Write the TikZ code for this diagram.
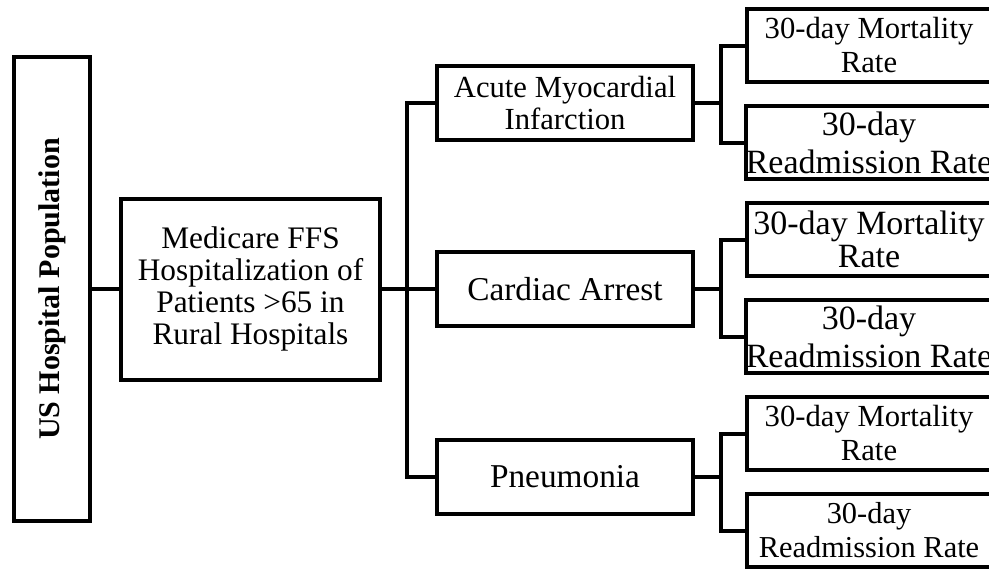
\documentclass[tikz,border=0pt]{standalone}
\usepackage{fontspec}
\usepackage{graphicx}
\setmainfont{Liberation Serif}
\usetikzlibrary{positioning}

\begin{document}
\begin{tikzpicture}[x=0.75pt,y=-0.75pt]
  \tikzstyle{box} = [rectangle,draw=black,line width=3pt,inner sep=0pt,outer sep=0pt,align=center]
  \tikzstyle{cond} = [box,minimum width=192pt,minimum height=55.5pt,font=\fontsize{25}{28}\selectfont]
  \tikzstyle{rate} = [box,minimum width=183pt,minimum height=54.75pt]
  \tikzstyle{link} = [draw=black,line width=3pt]

  \useasboundingbox (0,0) rectangle (989,571);

  \node [box,minimum width=57pt,minimum height=348pt,font=\fontsize{22.5}{24}\selectfont\bfseries] (us) at (52,289) {\rotatebox{90}{US Hospital Population}};
  \node [box,minimum width=194.25pt,minimum height=135.75pt,right=23.25pt of us,font=\fontsize{23.5}{23.8}\selectfont] (medicare) {Medicare FFS\\Hospitalization of\\Patients >65 in\\Rural Hospitals};

  \node [cond,right=42.75pt of medicare] (cardiac) {Cardiac Arrest};
  \node [cond,above=84pt of cardiac,font=\fontsize{23}{24}\selectfont] (ami) {Acute Myocardial\\Infarction};
  \node [cond,below=85.5pt of cardiac] (pneu) {Pneumonia};

  \node [rate,right=40.5pt of ami,yshift=43.125pt,font=\fontsize{23}{25.5}\selectfont] (mort1) {30-day Mortality\\Rate};
  \node [rate,below=18pt of mort1,font=\fontsize{25.5}{28.5}\selectfont] (read1) {30-day\\Readmission Rate};
  \node [rate,below=18pt of read1,font=\fontsize{25.5}{25}\selectfont] (mort2) {30-day Mortality\\Rate};
  \node [rate,below=18pt of mort2,font=\fontsize{25.5}{28.5}\selectfont] (read2) {30-day\\Readmission Rate};
  \node [rate,below=18pt of read2,font=\fontsize{23}{25.5}\selectfont] (mort3) {30-day Mortality\\Rate};
  \node [rate,below=18pt of mort3,font=\fontsize{22.8}{25.5}\selectfont] (read3) {30-day\\Readmission Rate};

  \draw [link] (us.east) -- (medicare.west);
  \draw [link] (medicare.east) -- ++(27,0) coordinate (split);
  \draw [link] (ami.west) -| (split) |- (pneu.west);
  \draw [link] (split) -- (cardiac.west);

  \draw [link] (ami.east) -- ++(28,0) coordinate (amisplit);
  \draw [link] (mort1.west) -| (amisplit) |- (read1.west);
  \draw [link] (cardiac.east) -- ++(28,0) coordinate (cardsplit);
  \draw [link] (mort2.west) -| (cardsplit) |- (read2.west);
  \draw [link] (pneu.east) -- ++(28,0) coordinate (pneusplit);
  \draw [link] (mort3.west) -| (pneusplit) |- (read3.west);
  %\node [below=2pt of read3] {};
\end{tikzpicture}
\end{document}
